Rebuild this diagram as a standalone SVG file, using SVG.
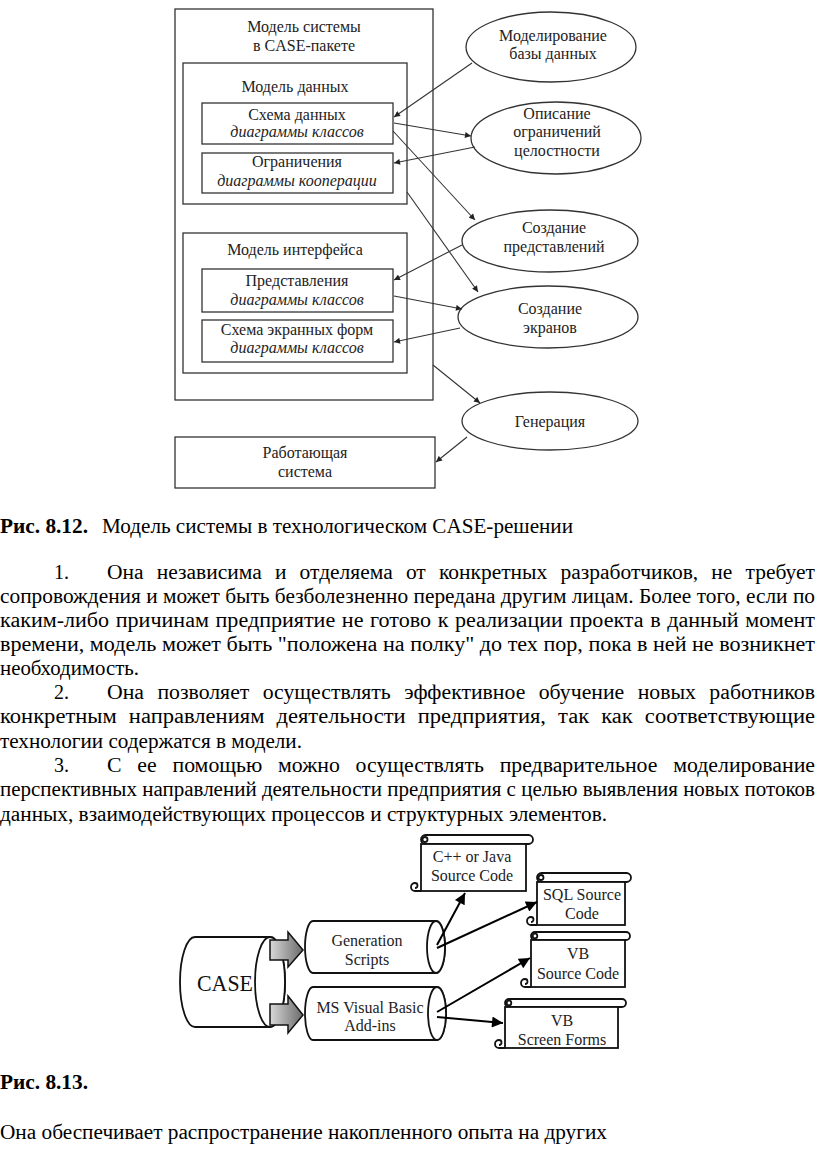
<svg xmlns="http://www.w3.org/2000/svg" width="816" height="1163" viewBox="0 0 816 1163">
<style>
.bx{fill:none;stroke:#333;stroke-width:1.3}
.bw{fill:#fff;stroke:#333;stroke-width:1.3}
.t{font-family:"Liberation Serif","Times New Roman",Times,"DejaVu Serif",serif;font-size:16px;fill:#222;text-anchor:middle}
.i{font-style:italic}
.c1{fill:none;stroke:#333;stroke-width:1.1;marker-end:url(#a1)}
.c2{fill:none;stroke:#000;stroke-width:2;marker-end:url(#a2)}
.sk{fill:#fff;stroke:#111;stroke-width:1.8}
.ba{fill:url(#g);stroke:#111;stroke-width:1.5}
.b{font-family:"Liberation Serif","Times New Roman",Times,"DejaVu Serif",serif;font-size:20px;fill:#000}
.bd{font-weight:bold}
</style>
<defs>
<marker id="a1" viewBox="0 0 10 10" refX="10" refY="5" markerWidth="7" markerHeight="6" orient="auto" markerUnits="userSpaceOnUse"><path d="M0,0 L10,5 L0,10 z" fill="#222"/></marker>
<marker id="a2" viewBox="0 0 10 10" refX="10" refY="5" markerWidth="14" markerHeight="11" orient="auto" markerUnits="userSpaceOnUse"><path d="M0,0 L10,5 L0,10 z" fill="#000"/></marker>
<linearGradient id="g" x1="0" y1="0" x2="1" y2="0"><stop offset="0" stop-color="#d8d8d8"/><stop offset="1" stop-color="#6a6a6a"/></linearGradient>
</defs>

<!-- Top diagram -->
<g id="model-system">
<rect class="bx" x="175" y="9" width="258" height="391"/>
<text class="t" x="304" y="32">Модель системы</text>
<text class="t" x="304" y="51">в CASE-пакете</text>
</g>
<g id="model-data">
<rect class="bx" x="183" y="63" width="224" height="141"/>
<text class="t" x="295" y="92">Модель данных</text>
</g>
<g id="schema-data">
<rect class="bx" x="202" y="103" width="191" height="41"/>
<text class="t" x="297" y="120">Схема данных</text>
<text class="t i" x="297" y="137">диаграммы классов</text>
</g>
<g id="constraints">
<rect class="bx" x="202" y="153" width="191" height="40"/>
<text class="t" x="297" y="167">Ограничения</text>
<text class="t i" x="297" y="186">диаграммы кооперации</text>
</g>
<g id="model-interface">
<rect class="bx" x="183" y="233" width="224" height="140"/>
<text class="t" x="295" y="255">Модель интерфейса</text>
</g>
<g id="views">
<rect class="bx" x="202" y="269" width="191" height="43"/>
<text class="t" x="297" y="286">Представления</text>
<text class="t i" x="297" y="305">диаграммы классов</text>
</g>
<g id="screen-forms">
<rect class="bx" x="202" y="320" width="191" height="42"/>
<text class="t" x="297" y="335">Схема экранных форм</text>
<text class="t i" x="297" y="353">диаграммы классов</text>
</g>
<g id="working-system">
<rect class="bx" x="175" y="437" width="260" height="51"/>
<text class="t" x="305" y="458">Работающая</text>
<text class="t" x="305" y="477">система</text>
</g>
<g id="db-modeling">
<ellipse class="bw" cx="551" cy="47" rx="85" ry="35"/>
<text class="t" x="553" y="41">Моделирование</text>
<text class="t" x="553" y="59">базы данных</text>
</g>
<g id="integrity">
<ellipse class="bw" cx="556" cy="138" rx="85" ry="36"/>
<text class="t" x="557" y="119">Описание</text>
<text class="t" x="557" y="137">ограничений</text>
<text class="t" x="557" y="156">целостности</text>
</g>
<g id="create-views">
<ellipse class="bw" cx="550" cy="241" rx="88" ry="31"/>
<text class="t" x="554" y="233">Создание</text>
<text class="t" x="554" y="252">представлений</text>
</g>
<g id="create-screens">
<ellipse class="bw" cx="548" cy="317" rx="90" ry="31"/>
<text class="t" x="550" y="314">Создание</text>
<text class="t" x="550" y="333">экранов</text>
</g>
<g id="generation">
<ellipse class="bw" cx="550" cy="421" rx="88" ry="29"/>
<text class="t" x="550" y="427">Генерация</text>
</g>
<g id="connectors-top">
<path class="c1" d="M472,63 L394,117"/>
<path class="c1" d="M394,123 L471,136"/>
<path class="c1" d="M475,147 L394,163"/>
<path class="c1" d="M393,131 L475,220"/>
<path class="c1" d="M407,192 L478,292"/>
<path class="c1" d="M462,245 L394,280"/>
<path class="c1" d="M394,296 L462,309"/>
<path class="c1" d="M460,328 L394,342"/>
<path class="c1" d="M433,365 L480,403"/>
<path class="c1" d="M467,437 L436,462"/>
</g>

<!-- Captions and body text -->
<text class="b bd" x="0" y="533" textLength="88" lengthAdjust="spacingAndGlyphs">Рис. 8.12.</text>
<text class="b" x="102" y="533" textLength="471" lengthAdjust="spacingAndGlyphs">Модель системы в технологическом CASE-решении</text>
<text class="b" x="54" y="579">1.</text>
<text class="b" x="107" y="579" word-spacing="7.3" textLength="708" lengthAdjust="spacingAndGlyphs">Она независима и отделяема от конкретных разработчиков, не требует</text>
<text class="b" x="0" y="603" textLength="815" lengthAdjust="spacingAndGlyphs">сопровождения и может быть безболезненно передана другим лицам. Более того, если по</text>
<text class="b" x="0" y="627" word-spacing="1" textLength="815" lengthAdjust="spacingAndGlyphs">каким-либо причинам предприятие не готово к реализации проекта в данный момент</text>
<text class="b" x="0" y="651" textLength="815" lengthAdjust="spacingAndGlyphs">времени, модель может быть "положена на полку" до тех пор, пока в ней не возникнет</text>
<text class="b" x="0" y="675" textLength="139" lengthAdjust="spacingAndGlyphs">необходимость.</text>
<text class="b" x="54" y="699">2.</text>
<text class="b" x="107" y="699" word-spacing="7.3" textLength="708" lengthAdjust="spacingAndGlyphs">Она позволяет осуществлять эффективное обучение новых работников</text>
<text class="b" x="0" y="723" word-spacing="5.7" textLength="815" lengthAdjust="spacingAndGlyphs">конкретным направлениям деятельности предприятия, так как соответствующие</text>
<text class="b" x="0" y="748" textLength="302" lengthAdjust="spacingAndGlyphs">технологии содержатся в модели.</text>
<text class="b" x="54" y="772">3.</text>
<text class="b" x="107" y="772" word-spacing="9.5" textLength="708" lengthAdjust="spacingAndGlyphs">С ее помощью можно осуществлять предварительное моделирование</text>
<text class="b" x="0" y="796" textLength="815" lengthAdjust="spacingAndGlyphs">перспективных направлений деятельности предприятия с целью выявления новых потоков</text>
<text class="b" x="0" y="821" textLength="607" lengthAdjust="spacingAndGlyphs">данных, взаимодействующих процессов и структурных элементов.</text>
<text class="b bd" x="0" y="1089" textLength="88" lengthAdjust="spacingAndGlyphs">Рис. 8.13.</text>
<text class="b" x="0" y="1139" textLength="607" lengthAdjust="spacingAndGlyphs">Она обеспечивает распространение накопленного опыта на других</text>

<!-- Bottom diagram -->
<g id="case">
<path class="sk" d="M195,937 H270 A15,45 0 0 1 270,1027 H195 A15,45 0 0 1 195,937 Z"/>
<ellipse class="sk" cx="270" cy="982" rx="15" ry="45"/>
<text x="225" y="991" font-family="Liberation Serif, Times New Roman, serif" font-size="23" text-anchor="middle" fill="#111" textLength="56" lengthAdjust="spacingAndGlyphs">CASE</text>
<polygon class="ba" points="270,940 288,940 288,932 303,950 288,967 288,960 270,960"/>
<polygon class="ba" points="270,1004 288,1004 288,996 303,1015 288,1033 288,1025 270,1025"/>
</g>
<g id="gen-scripts">
<path class="sk" d="M313,921 H436 A9,26 0 0 1 436,973 H313 A8,26 0 0 1 313,921 Z"/>
<ellipse class="sk" cx="436" cy="947" rx="9" ry="26"/>
<text class="t" x="367" y="946">Generation</text>
<text class="t" x="367" y="965">Scripts</text>
</g>
<g id="ms-vb">
<path class="sk" d="M313,987 H437 A9,26.5 0 0 1 437,1040 H313 A8,26.5 0 0 1 313,987 Z"/>
<ellipse class="sk" cx="437" cy="1013.5" rx="9" ry="26.5"/>
<text class="t" x="370" y="1013">MS Visual Basic</text>
<text class="t" x="370" y="1031">Add-ins</text>
</g>
<g id="cpp-java">
<rect class="sk" x="421" y="835" width="112" height="9" rx="4.5"/>
<rect class="sk" x="421" y="844" width="105" height="47"/>
<circle class="sk" cx="425" cy="839.5" r="2.5"/>
<path class="sk" d="M421,891 H415 A4,4 0 0 1 415,883 A2.5,2.5 0 0 1 415,888"/>
<text class="t" x="472" y="862">C++ or Java</text>
<text class="t" x="472" y="881">Source Code</text>
</g>
<g id="sql-code">
<rect class="sk" x="537" y="873" width="94" height="9" rx="4.5"/>
<rect class="sk" x="537" y="882" width="88" height="43"/>
<circle class="sk" cx="541" cy="877.5" r="2.5"/>
<path class="sk" d="M537,925 H531 A4,4 0 0 1 531,917 A2.5,2.5 0 0 1 531,922"/>
<text class="t" x="582" y="900">SQL Source</text>
<text class="t" x="582" y="919">Code</text>
</g>
<g id="vb-code">
<rect class="sk" x="531" y="932" width="99" height="8" rx="4"/>
<rect class="sk" x="531" y="940" width="94" height="47"/>
<circle class="sk" cx="535" cy="936" r="2.3"/>
<path class="sk" d="M531,987 H525 A4,4 0 0 1 525,979 A2.5,2.5 0 0 1 525,984"/>
<text class="t" x="578" y="959">VB</text>
<text class="t" x="578" y="979">Source Code</text>
</g>
<g id="vb-forms">
<rect class="sk" x="505" y="999" width="121" height="8" rx="4"/>
<rect class="sk" x="505" y="1007" width="113" height="41"/>
<circle class="sk" cx="509" cy="1003" r="2.3"/>
<path class="sk" d="M505,1048 H499 A4,4 0 0 1 499,1040 A2.5,2.5 0 0 1 499,1045"/>
<text class="t" x="562" y="1026">VB</text>
<text class="t" x="562" y="1045">Screen Forms</text>
</g>
<g id="connectors-bottom">
<path class="c2" d="M437,945 L465,893"/>
<path class="c2" d="M437,948 L537,902"/>
<path class="c2" d="M437,1012 L530,958"/>
<path class="c2" d="M437,1017 L503,1023"/>
</g>
</svg>
